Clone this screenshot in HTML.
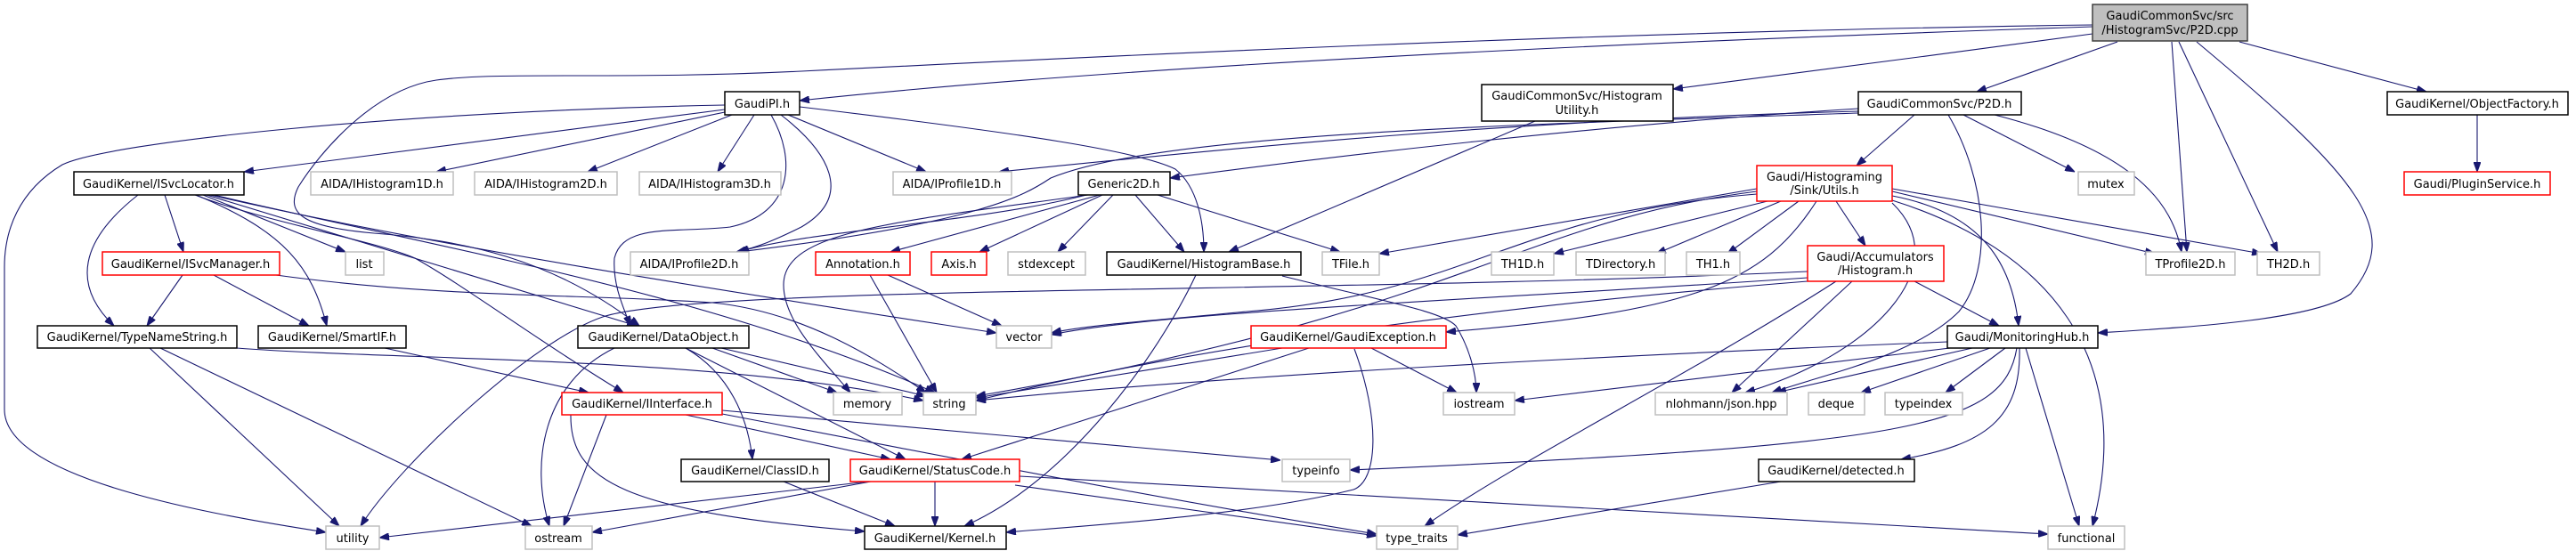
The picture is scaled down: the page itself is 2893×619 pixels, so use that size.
<!DOCTYPE html>
<html><head><meta charset="utf-8"><style>
html,body{margin:0;padding:0;background:#fff;}
svg{display:block;}
text{font-family:"DejaVu Sans","Liberation Sans",sans-serif;font-size:13px;fill:#000;text-anchor:middle;}
.e{fill:none;stroke:#191970;stroke-width:1.1;marker-end:url(#a);}
.b{fill:#fff;stroke:#000;stroke-width:1.5;}
.r{fill:#fff;stroke:#ff0000;stroke-width:1.5;}
.g{fill:#fff;stroke:#bfbfbf;stroke-width:1.5;}
</style></head><body>
<svg width="2893" height="619" viewBox="0 0 2893 619" xmlns="http://www.w3.org/2000/svg">
<defs><marker id="a" markerUnits="userSpaceOnUse" markerWidth="11" markerHeight="8" refX="11" refY="4" orient="auto"><path d="M0,0 L11,4 L0,8 z" fill="#191970" stroke="#191970"/></marker></defs>
<rect width="2893" height="619" fill="#fff"/>
<g>
<!-- P2D.cpp edges -->
<path class="e" d="M2350,30 C1900,45 1300,70 898,113"/>
<path class="e" d="M2350,38 C2200,58 2000,85 1879,100"/>
<path class="e" d="M2378,47 L2220,103"/>
<path class="e" d="M2515,47 L2725,103"/>
<path class="e" d="M2439,47 L2456,283"/>
<path class="e" d="M2447,47 L2558,283"/>
<path class="e" d="M2467,47 C2650,200 2700,260 2640,330 C2600,360 2450,368 2356,374"/>
<path class="e" d="M2350,28 C1800,35 1200,65 900,80 C700,90 560,80 490,90 C420,100 360,170 335,210 C320,240 340,255 420,262 C520,270 620,290 718,366"/>
<!-- GaudiPI edges -->
<path class="e" d="M814,118 C450,125 120,160 70,185 C20,215 5,260 5,300 L5,460 C5,540 250,580 366,598"/>
<path class="e" d="M814,123 L274,193"/>
<path class="e" d="M814,126 L490,193"/>
<path class="e" d="M822,129 L660,193"/>
<path class="e" d="M847,129 L806,193"/>
<path class="e" d="M885,129 L1040,193"/>
<path class="e" d="M898,120 C1150,150 1280,170 1320,190 C1345,210 1352,250 1352,283"/>
<path class="e" d="M877,129 C930,170 960,220 900,255 C870,270 850,278 827,283"/>
<path class="e" d="M866,129 C895,180 890,240 820,255 C760,262 700,250 690,290 C688,320 700,345 708,366"/>
<!-- ISvcLocator -->
<path class="e" d="M185,219 L206,283"/>
<path class="e" d="M155,219 C90,270 80,320 128,366"/>
<path class="e" d="M220,219 C320,260 350,300 367,366"/>
<path class="e" d="M228,219 L388,283"/>
<path class="e" d="M219,219 C300,250 420,270 466,290 C520,320 600,380 700,441"/>
<path class="e" d="M232,219 L715,366"/>
<path class="e" d="M240,219 C500,280 800,330 1050,441"/>
<path class="e" d="M236,219 C500,280 900,340 1119,374"/>
<!-- ISvcManager -->
<path class="e" d="M205,309 L165,366"/>
<path class="e" d="M240,309 L347,366"/>
<path class="e" d="M310,309 C500,335 650,330 800,340 C900,350 980,400 1040,441"/>
<!-- TypeNameString -->
<path class="e" d="M168,391 L381,591"/>
<path class="e" d="M180,391 L597,591"/>
<path class="e" d="M266,391 C450,405 800,400 1037,450"/>
<!-- SmartIF -->
<path class="e" d="M432,391 L661,441"/>
<!-- DataObject -->
<path class="e" d="M800,391 L940,441"/>
<path class="e" d="M810,391 L1040,445"/>
<path class="e" d="M770,391 C820,420 840,470 845,516"/>
<path class="e" d="M770,391 L1017,516"/>
<path class="e" d="M690,391 C610,430 595,520 617,591"/>
<!-- IInterface -->
<path class="e" d="M681,466 L633,591"/>
<path class="e" d="M770,466 L1000,516"/>
<path class="e" d="M641,466 C640,540 700,575 971,597"/>
<path class="e" d="M811,461 L1438,517"/>
<path class="e" d="M811,465 C1100,520 1300,560 1546,600"/>
<!-- StatusCode -->
<path class="e" d="M1050,541 L1050,591"/>
<path class="e" d="M975,541 L426,604"/>
<path class="e" d="M978,541 L665,598"/>
<path class="e" d="M1140,545 L1546,602"/>
<path class="e" d="M1145,535 C1600,560 2000,585 2300,600"/>
<path class="e" d="M880,541 L1005,591"/>
<!-- Generic2D -->
<path class="e" d="M1220,219 C1100,250 900,260 830,283"/>
<path class="e" d="M1235,219 L1000,283"/>
<path class="e" d="M1238,219 L1100,283"/>
<path class="e" d="M1250,219 L1188,283"/>
<path class="e" d="M1275,219 L1330,283"/>
<path class="e" d="M1300,219 L1505,283"/>
<path class="e" d="M1222,219 C1000,250 880,260 880,320 C880,360 920,400 955,441"/>
<!-- Annotation -->
<path class="e" d="M977,309 L1052,441"/>
<path class="e" d="M997,309 L1125,366"/>
<!-- HistogramBase -->
<path class="e" d="M1343,309 C1300,400 1200,540 1083,591"/>
<path class="e" d="M1440,310 C1560,340 1620,350 1635,366 C1650,390 1658,420 1658,441"/>
<!-- HistogramUtility -->
<path class="e" d="M1724,136 L1380,283"/>
<!-- P2D.h -->
<path class="e" d="M2087,125 C1700,135 1400,165 1122,193"/>
<path class="e" d="M2087,122 C1800,140 1500,175 1314,200"/>
<path class="e" d="M2150,129 L2085,186"/>
<path class="e" d="M2205,129 L2330,193"/>
<path class="e" d="M2240,129 C2400,170 2440,230 2450,283"/>
<path class="e" d="M2188,129 C2230,200 2240,300 2200,350 C2150,400 2050,420 1990,441"/>
<path class="e" d="M2087,127 C1700,140 1300,150 1180,200 C1150,220 1100,250 830,283"/>
<!-- Sink/Utils -->
<path class="e" d="M1973,212 L1549,285"/>
<path class="e" d="M1985,226 L1745,285"/>
<path class="e" d="M2000,226 L1860,285"/>
<path class="e" d="M2020,226 L1940,285"/>
<path class="e" d="M2062,226 L2095,276"/>
<path class="e" d="M2040,226 C1980,320 1900,350 1624,373"/>
<path class="e" d="M2125,215 L2420,285"/>
<path class="e" d="M2125,212 L2540,285"/>
<path class="e" d="M2125,220 C2230,240 2260,300 2267,366"/>
<path class="e" d="M2125,225 C2300,280 2400,400 2350,591"/>
<path class="e" d="M1973,215 C1700,250 1650,350 1096,445"/>
<path class="e" d="M1973,218 C1700,240 1650,330 1400,350 C1300,360 1220,365 1181,374"/>
<path class="e" d="M2125,228 C2200,300 2100,400 1960,441"/>
<!-- Accumulators -->
<path class="e" d="M2030,305 C1500,330 800,320 680,355 C600,380 450,520 405,591"/>
<path class="e" d="M2030,312 C1700,335 1300,350 1181,376"/>
<path class="e" d="M2030,316 C1600,350 1300,400 1096,450"/>
<path class="e" d="M2080,316 L1945,441"/>
<path class="e" d="M2062,316 C1900,420 1700,520 1600,591"/>
<path class="e" d="M2150,316 L2245,366"/>
<!-- GaudiException -->
<path class="e" d="M1440,391 L1096,447"/>
<path class="e" d="M1540,391 L1636,441"/>
<path class="e" d="M1470,391 L1080,516"/>
<path class="e" d="M1521,392 C1550,470 1548,540 1520,550 C1400,580 1200,592 1130,598"/>
<!-- MonitoringHub -->
<path class="e" d="M2187,384 C1800,400 1400,420 1096,450"/>
<path class="e" d="M2190,391 L1701,450"/>
<path class="e" d="M2215,391 L1995,441"/>
<path class="e" d="M2235,391 L2090,441"/>
<path class="e" d="M2252,391 L2185,441"/>
<path class="e" d="M2265,391 C2250,480 2150,500 1516,528"/>
<path class="e" d="M2268,391 C2270,470 2230,500 2135,516"/>
<path class="e" d="M2275,391 L2335,591"/>
<!-- detected -->
<path class="e" d="M2000,541 L1637,601"/>
<!-- ObjectFactory -->
<path class="e" d="M2782,129 L2782,193"/>
</g>
<g>
<rect x="2350" y="5" width="174" height="41" fill="#bfbfbf" stroke="#404040" stroke-width="1.5"/>
<text x="2437" y="22">GaudiCommonSvc/src</text><text x="2437" y="38">/HistogramSvc/P2D.cpp</text>

<rect class="b" x="814" y="103" width="84" height="26"/><text x="856" y="121">GaudiPI.h</text>
<rect class="b" x="1664" y="95" width="215" height="41"/><text x="1771" y="112">GaudiCommonSvc/Histogram</text><text x="1771" y="128">Utility.h</text>
<rect class="b" x="2087" y="103" width="183" height="26"/><text x="2178" y="121">GaudiCommonSvc/P2D.h</text>
<rect class="b" x="2681" y="103" width="203" height="26"/><text x="2782" y="121">GaudiKernel/ObjectFactory.h</text>

<rect class="b" x="83" y="193" width="191" height="26"/><text x="178" y="211">GaudiKernel/ISvcLocator.h</text>
<rect class="g" x="349" y="193" width="160" height="26"/><text x="429" y="211">AIDA/IHistogram1D.h</text>
<rect class="g" x="533" y="193" width="160" height="26"/><text x="613" y="211">AIDA/IHistogram2D.h</text>
<rect class="g" x="718" y="193" width="159" height="26"/><text x="797" y="211">AIDA/IHistogram3D.h</text>
<rect class="g" x="1003" y="193" width="133" height="26"/><text x="1069" y="211">AIDA/IProfile1D.h</text>
<rect class="b" x="1211" y="193" width="103" height="26"/><text x="1262" y="211">Generic2D.h</text>
<rect class="r" x="1973" y="186" width="152" height="40"/><text x="2049" y="203">Gaudi/Histograming</text><text x="2049" y="218">/Sink/Utils.h</text>
<rect class="g" x="2334" y="193" width="63" height="26"/><text x="2365" y="211">mutex</text>
<rect class="r" x="2700" y="193" width="164" height="26"/><text x="2782" y="211">Gaudi/PluginService.h</text>

<rect class="r" x="115" y="283" width="199" height="26"/><text x="214" y="301">GaudiKernel/ISvcManager.h</text>
<rect class="g" x="388" y="283" width="43" height="26"/><text x="409" y="301">list</text>
<rect class="g" x="708" y="283" width="133" height="26"/><text x="774" y="301">AIDA/IProfile2D.h</text>
<rect class="r" x="916" y="283" width="106" height="26"/><text x="969" y="301">Annotation.h</text>
<rect class="r" x="1046" y="283" width="62" height="26"/><text x="1077" y="301">Axis.h</text>
<rect class="g" x="1132" y="283" width="87" height="26"/><text x="1175" y="301">stdexcept</text>
<rect class="b" x="1243" y="283" width="218" height="26"/><text x="1352" y="301">GaudiKernel/HistogramBase.h</text>
<rect class="g" x="1485" y="283" width="64" height="26"/><text x="1517" y="301">TFile.h</text>
<rect class="g" x="1675" y="283" width="70" height="26"/><text x="1710" y="301">TH1D.h</text>
<rect class="g" x="1770" y="283" width="100" height="26"/><text x="1820" y="301">TDirectory.h</text>
<rect class="g" x="1894" y="283" width="60" height="26"/><text x="1924" y="301">TH1.h</text>
<rect class="r" x="2030" y="276" width="153" height="40"/><text x="2106" y="293">Gaudi/Accumulators</text><text x="2106" y="308">/Histogram.h</text>
<rect class="g" x="2410" y="283" width="100" height="26"/><text x="2460" y="301">TProfile2D.h</text>
<rect class="g" x="2535" y="283" width="70" height="26"/><text x="2570" y="301">TH2D.h</text>

<rect class="b" x="42" y="366" width="224" height="25"/><text x="154" y="383">GaudiKernel/TypeNameString.h</text>
<rect class="b" x="290" y="366" width="166" height="25"/><text x="373" y="383">GaudiKernel/SmartIF.h</text>
<rect class="b" x="649" y="366" width="192" height="25"/><text x="745" y="383">GaudiKernel/DataObject.h</text>
<rect class="g" x="1119" y="366" width="62" height="25"/><text x="1150" y="383">vector</text>
<rect class="r" x="1405" y="366" width="219" height="25"/><text x="1514" y="383">GaudiKernel/GaudiException.h</text>
<rect class="b" x="2187" y="366" width="169" height="25"/><text x="2271" y="383">Gaudi/MonitoringHub.h</text>

<rect class="r" x="631" y="441" width="180" height="25"/><text x="721" y="458">GaudiKernel/IInterface.h</text>
<rect class="g" x="936" y="441" width="77" height="25"/><text x="974" y="458">memory</text>
<rect class="g" x="1037" y="441" width="59" height="25"/><text x="1066" y="458">string</text>
<rect class="g" x="1621" y="441" width="80" height="25"/><text x="1661" y="458">iostream</text>
<rect class="g" x="1859" y="441" width="148" height="25"/><text x="1933" y="458">nlohmann/json.hpp</text>
<rect class="g" x="2031" y="441" width="63" height="25"/><text x="2062" y="458">deque</text>
<rect class="g" x="2117" y="441" width="87" height="25"/><text x="2160" y="458">typeindex</text>

<rect class="b" x="765" y="516" width="166" height="25"/><text x="848" y="533">GaudiKernel/ClassID.h</text>
<rect class="r" x="955" y="516" width="190" height="25"/><text x="1050" y="533">GaudiKernel/StatusCode.h</text>
<rect class="g" x="1440" y="516" width="76" height="25"/><text x="1478" y="533">typeinfo</text>
<rect class="b" x="1975" y="516" width="175" height="25"/><text x="2062" y="533">GaudiKernel/detected.h</text>

<rect class="g" x="366" y="591" width="60" height="26"/><text x="396" y="609">utility</text>
<rect class="g" x="590" y="591" width="75" height="26"/><text x="627" y="609">ostream</text>
<rect class="b" x="971" y="591" width="159" height="26"/><text x="1050" y="609">GaudiKernel/Kernel.h</text>
<rect class="g" x="1546" y="591" width="91" height="26"/><text x="1591" y="609">type_traits</text>
<rect class="g" x="2300" y="591" width="86" height="26"/><text x="2343" y="609">functional</text>
</g>
</svg>
</body></html>
